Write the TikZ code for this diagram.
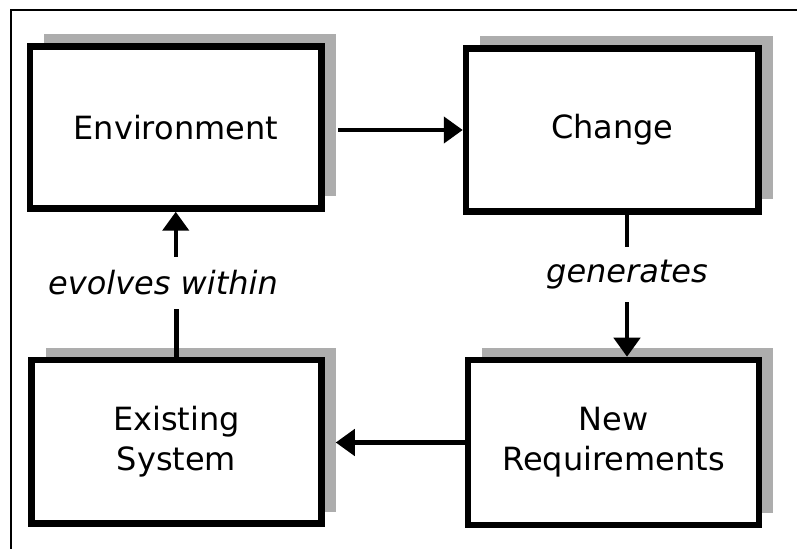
\documentclass[tikz,border=0pt]{standalone}
\usepackage{fontspec}
\setmainfont{DejaVu Sans}
\usetikzlibrary{arrows.meta,shadows}
\begin{document}
\begin{tikzpicture}[x=1pt,y=1pt,
  box/.style={draw=black, line width=6.5pt, fill=white, inner sep=0pt, align=center,
    font=\fontsize{32}{40}\selectfont,
    drop shadow={shadow xshift=14pt, shadow yshift=12pt, fill=black!32, opacity=1}},
  lbl/.style={inner sep=0pt, font=\fontsize{32}{40}\selectfont\itshape},
  conn/.style={line width=4.5pt},
  arr/.style={conn, -{Triangle[length=19pt,width=26pt]}},
  frame/.style={line width=2pt}]
\useasboundingbox (0,0) rectangle (797,549);
% open frame: top and left rules
\draw[frame] (797,539) -- (11,539) -- (11,0);

% the four boxes
\node[box, minimum width=291.5pt, minimum height=162pt] (env) at (175.75,421.5) {Environment};
\node[box, minimum width=292.5pt, minimum height=163pt] (change) at (612.25,419) {Change};
\node[box, minimum width=290pt, minimum height=163.5pt] (existing) at (176.5,107.25) {Existing\\System};
\node[box, minimum width=291pt, minimum height=165pt] (nr) at (613.5,106.5) {New\\Requirements};

% connector labels
\node[lbl, minimum height=55pt] (gen) at (627,274.5) {generates};
\node[lbl, minimum height=52pt] (evo) at (163,266) {evolves within};

% connectors
\draw[arr] ([xshift=13pt]env.east |- change.west) -- (change.west);
\draw[conn] (change.south -| gen.north) -- (gen.north);
\draw[arr] (gen.south) -- (gen.south |- nr.north);
\draw[arr] (nr.west) -- ([xshift=11pt]existing.east |- nr.west);
\draw[conn] (existing.north) -- (existing.north |- evo.south);
\draw[arr] (env.south |- evo.north) -- (env.south);
\end{tikzpicture}
\end{document}
